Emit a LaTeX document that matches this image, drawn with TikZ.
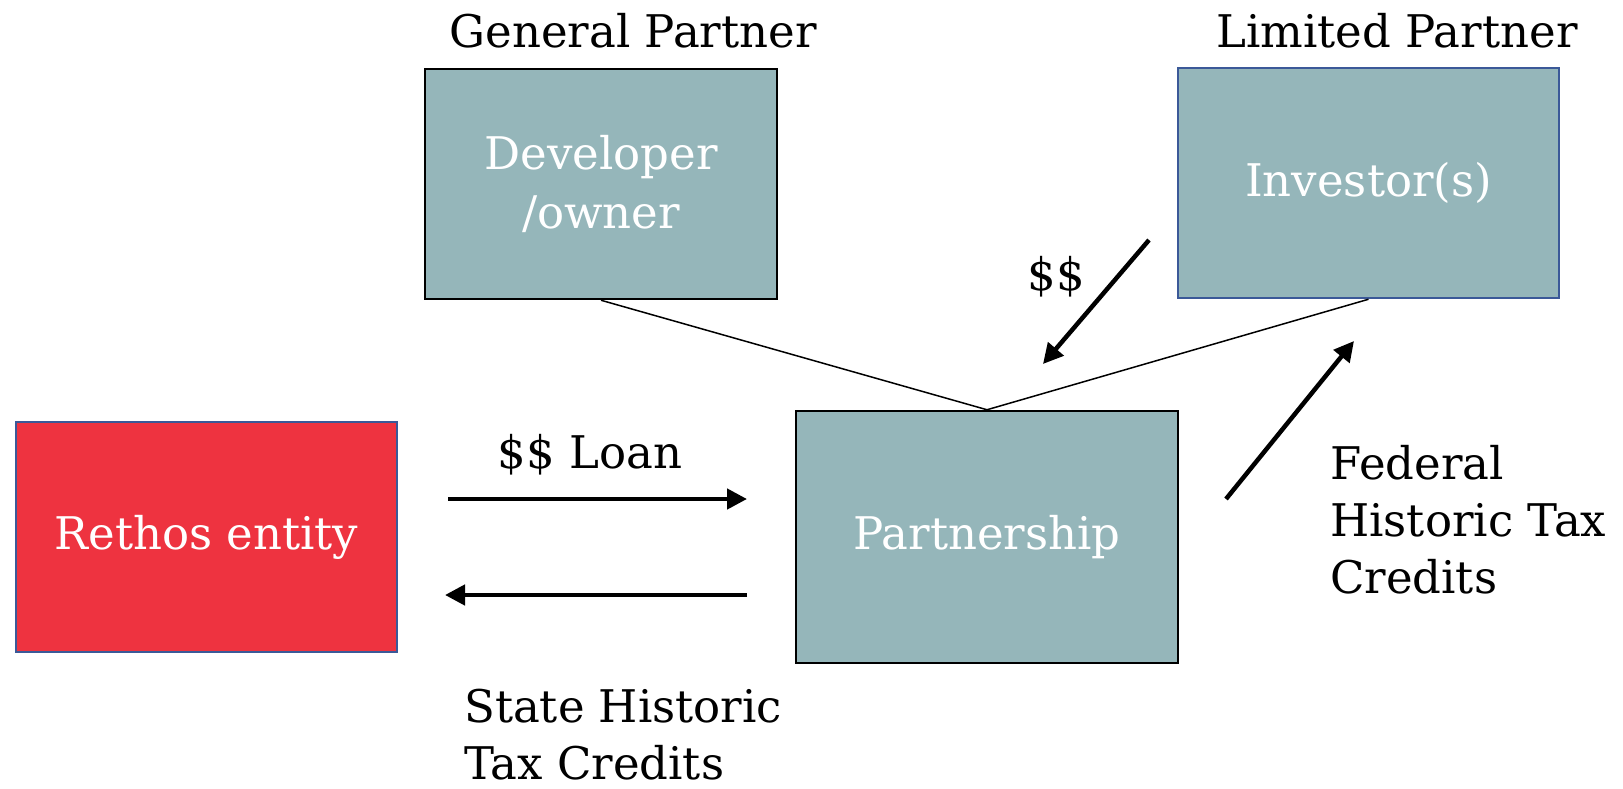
\documentclass[tikz,border=0pt]{standalone}
\usepackage{fontspec}
\setmainfont{DejaVu Serif}
\usetikzlibrary{arrows.meta}
\definecolor{boxteal}{RGB}{149,182,186}
\definecolor{boxred}{RGB}{238,51,64}
\definecolor{edgeblue}{RGB}{59,89,152}
\tikzset{
    entity/.style = {draw=black, line width=2.5pt, fill=boxteal, text=white,
        inner sep=0pt, align=center, font=\fontsize{45}{59}\selectfont},
    caption/.style = {inner sep=0pt, align=left, font=\fontsize{45}{57}\selectfont},
    flow/.style = {line width=4.5pt, -{Triangle[length=20pt, width=20pt]}},
    link/.style = {line width=1.5pt}
}

\begin{document}
\begin{tikzpicture}[x=1pt, y=-1pt, line join=miter]
	\useasboundingbox (0,0) rectangle (1623,788);
	% the four parties
	\node[entity, minimum width=352pt, minimum height=230pt] (dev) at (601,184) {Developer\\/owner};
	\node[entity, draw=edgeblue, minimum width=381pt, minimum height=230pt] (inv) at (1368.5,183) {Investor(s)};
	\node[entity, draw=edgeblue, fill=boxred, minimum width=381pt, minimum height=230pt] (rethos) at (206.5,537) {Rethos entity};
	\node[entity, minimum width=382pt, minimum height=252pt] (part) at (987,537) {Partnership};
	% roles
	\node[caption] (gp) at (633,31) {General Partner};
	\node[caption] (lp) at (1397,31) {Limited Partner};
	% ownership lines
	\draw[link] (dev.south) -- (part.north);
	\draw[link] (inv.south) -- (part.north);
	% loan and state credits
	\coordinate (loanA) at (448,499);
	\coordinate (loanB) at (747,499);
	\coordinate (stateA) at (747,595);
	\coordinate (stateB) at (445,595);
	\draw[flow] (loanA) -- (loanB);
	\draw[flow] (stateA) -- (stateB);
	\node[caption] (loan) at (590,455) {\$\$ Loan};
	\node[caption, anchor=north west] (state) at (464,689) {State Historic\\Tax Credits};
	% investor money and federal credits
	\coordinate (cashA) at (1149,240);
	\coordinate (cashB) at (1043,364);
	\coordinate (fedA) at (1226,499);
	\coordinate (fedB) at (1354,341);
	\draw[flow] (cashA) -- (cashB);
	\draw[flow] (fedA) -- (fedB);
	\node[caption] (cash) at (1056,277) {\$\$};
	\node[caption, anchor=north west] (fed) at (1330,445) {Federal\\Historic Tax\\Credits};
\end{tikzpicture}
\end{document}
